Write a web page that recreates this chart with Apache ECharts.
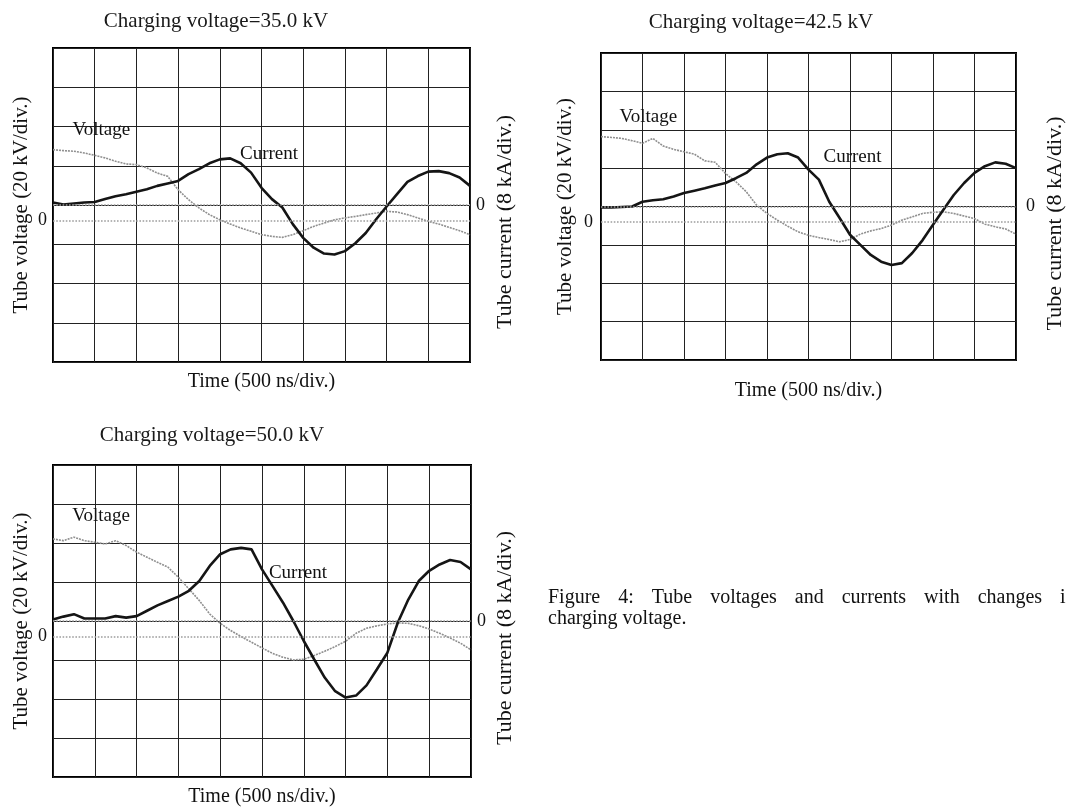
<!DOCTYPE html>
<html><head><meta charset="utf-8">
<script src="https://cdn.jsdelivr.net/npm/echarts@6/dist/echarts.min.js"></script>
<style>html,body{margin:0;padding:0;background:#fff}#c{width:1068px;height:810px}</style>
</head><body><div id="c"></div><script>
// ---- data (time in ns, voltage in kV, current in kA) ----
const timeNs = [0,125,250,375,500,625,750,875,1000,1125,1250,1375,1500,1625,1750,1875,2000,2125,2250,2375,2500,2625,2750,2875,3000,3125,3250,3375,3500,3625,3750,3875,4000,4125,4250,4375,4500,4625,4750,4875,5000];
const panelTitles = ['Charging voltage=35.0 kV','Charging voltage=42.5 kV','Charging voltage=50.0 kV'];
const voltage35 = [36.2,35.7,35.4,34.5,33.3,32.0,30.3,28.9,28.6,26.9,24.3,22.6,15.8,10.7,6.5,3.1,0.5,-1.7,-3.7,-5.4,-7.1,-8.0,-8.5,-7.1,-5.1,-2.9,-1.2,0.5,1.4,2.2,3.1,3.9,4.8,4.4,3.1,1.4,-0.3,-1.7,-3.4,-5.1,-7.1];
const current35 = [0.5,0.1,0.3,0.5,0.6,1.2,1.8,2.2,2.7,3.2,3.9,4.4,4.9,6.3,7.3,8.5,9.3,9.5,8.5,6.6,3.5,1.2,-0.5,-3.9,-6.7,-8.7,-9.9,-10.1,-9.4,-7.8,-5.7,-2.9,-0.3,2.2,4.7,5.9,6.8,6.9,6.5,5.6,3.9];
const voltage42 = [44.4,44.0,43.5,42.3,40.9,43.5,39.5,37.8,36.5,35.3,31.8,31.1,25.2,20.9,15.7,8.7,4.4,0.9,-2.3,-5.2,-7.0,-8.2,-9.2,-10.4,-9.2,-6.4,-4.7,-3.5,-1.7,0.9,2.6,4.4,5.0,5.2,4.4,3.0,1.7,-1.2,-2.6,-3.7,-6.4];
const current42 = [-0.2,-0.2,-0.1,0.0,1.0,1.3,1.5,2.1,2.8,3.3,3.8,4.4,4.9,5.9,7.0,8.8,10.2,10.9,11.1,10.2,7.7,5.6,1.0,-2.4,-5.9,-8.0,-10.1,-11.5,-12.2,-11.8,-9.7,-7.0,-3.8,-0.7,2.4,4.9,7.0,8.4,9.2,8.9,8.0];
const voltage50 = [50.1,49.2,51.0,49.2,48.4,47.5,49.2,46.7,43.3,40.7,38.1,35.6,30.4,24.5,18.5,11.6,6.8,3.1,0.0,-2.9,-5.8,-8.6,-10.6,-12.0,-11.6,-9.7,-7.5,-5.1,-2.4,1.7,4.3,5.5,6.5,7.0,6.8,5.6,3.9,1.7,-0.7,-3.4,-6.8];
const current50 = [0.3,0.9,1.4,0.5,0.5,0.5,1.0,0.7,1.0,2.1,3.2,4.1,5.0,6.2,8.2,11.3,13.7,14.7,15.0,14.7,10.6,7.2,3.8,0.0,-4.1,-7.9,-11.6,-14.4,-15.7,-15.3,-13.2,-9.9,-6.5,-0.3,4.4,8.2,10.3,11.6,12.5,12.1,10.6];
const voltageName = 'Tube voltage (20 kV/div.)';
const currentName = 'Tube current (8 kA/div.)';
const timeName = 'Time (500 ns/div.)';
const captionLine1 = ['Figure','4:','Tube','voltages','and','currents','with','changes','i'];
const captionLine2 = 'charging voltage.';

// ---- layout ----
const FONT = '"Liberation Serif","Times New Roman",serif';
const INK = '#111';
const panels = [
  {title:panelTitles[0], v:voltage35, c:current35, grid:{left:53,top:48,width:417,height:314}, tx:216, ty:11, xGap:10, lGap:21, rGap:24, lM:6, rM:6, vLab:[580,46.4], cLab:[2590,10.3]},
  {title:panelTitles[1], v:voltage42, c:current42, grid:{left:601,top:53,width:415,height:307}, tx:761, ty:12, xGap:21, lGap:25, rGap:28, lM:8, rM:10, vLab:[570,54.8], cLab:[3030,10.4]},
  {title:panelTitles[2], v:voltage50, c:current50, grid:{left:53,top:465,width:418,height:312}, tx:212, ty:425, xGap:10, lGap:21, rGap:23, lM:6, rM:6, vLab:[575,62], cLab:[2930,9.9]}
];

const grids=[], xAxes=[], yAxes=[], series=[], titles=[];
panels.forEach((p,i)=>{
  grids.push(Object.assign({show:true, borderColor:'#000', borderWidth:2, backgroundColor:'transparent', containLabel:false}, p.grid));
  titles.push({text:p.title, left:p.tx, top:p.ty, textAlign:'center', padding:0,
    textStyle:{fontSize:21, fontWeight:'normal', fontFamily:FONT, color:'#1a1a1a'}});
  xAxes.push({type:'value', gridIndex:i, min:0, max:5000, interval:500,
    axisLine:{show:false}, axisTick:{show:false}, axisLabel:{show:false},
    splitLine:{show:true, lineStyle:{color:'#222', width:1}},
    name:timeName, nameLocation:'middle', nameGap:p.xGap,
    nameTextStyle:{fontSize:20, fontFamily:FONT, color:INK}});
  yAxes.push({type:'value', gridIndex:i, position:'left', min:-72, max:88, interval:8,
    axisLine:{show:false}, axisTick:{show:false}, splitLine:{show:false},
    axisLabel:{formatter:v=>v===0?'0':'', fontSize:18, fontFamily:FONT, color:INK, margin:p.lM},
    name:voltageName, nameLocation:'middle', nameRotate:90, nameGap:p.lGap,
    nameTextStyle:{fontSize:21, fontFamily:FONT, color:INK}});
  yAxes.push({type:'value', gridIndex:i, position:'right', min:-32, max:32, interval:8,
    axisLine:{show:false}, axisTick:{show:false},
    splitLine:{show:true, lineStyle:{color:'#222', width:1}},
    axisLabel:{formatter:v=>v===0?'0':'', fontSize:18, fontFamily:FONT, color:INK, margin:p.rM},
    name:currentName, nameLocation:'middle', nameRotate:90, nameGap:p.rGap,
    nameTextStyle:{fontSize:22, fontFamily:FONT, color:INK, padding:[0,34,0,0]}});
  const base = {silent:true, symbol:'none', label:{show:false}, lineStyle:{color:'#9d9d9d', type:'dotted', width:1.6}, data:[{yAxis:0}]};
  series.push({type:'line', name:'Voltage', xAxisIndex:i, yAxisIndex:2*i, showSymbol:false, z:2,
    data:timeNs.map((t,k)=>[t,p.v[k]]),
    lineStyle:{color:'#8f8f8f', width:1.6, type:[2,1]},
    markLine:base,
    markPoint:{symbol:'rect', symbolSize:1, itemStyle:{color:'transparent'},
      label:{show:true, position:'inside', formatter:'Voltage', fontSize:19, fontFamily:FONT, color:INK},
      data:[{coord:p.vLab}]}});
  series.push({type:'line', name:'Current', xAxisIndex:i, yAxisIndex:2*i+1, showSymbol:false, z:3,
    data:timeNs.map((t,k)=>[t,p.c[k]]),
    lineStyle:{color:'#151515', width:2.6},
    markLine:base,
    markPoint:{symbol:'rect', symbolSize:1, itemStyle:{color:'transparent'},
      label:{show:true, position:'inside', formatter:'Current', fontSize:19, fontFamily:FONT, color:INK},
      data:[{coord:p.cLab}]}});
});

const chart = echarts.init(document.getElementById('c'), null, {renderer:'canvas'});
chart.setOption({
  backgroundColor:'#fff',
  animation:false,
  title:titles,
  grid:grids, xAxis:xAxes, yAxis:yAxes, series:series,
  graphic:[
    {type:'text', left:548, top:588, style:{text:captionLine1.join('{g| }'), rich:{g:{width:18}}, fontSize:20, fontFamily:FONT, fill:INK}},
    {type:'text', left:548, top:609, style:{text:captionLine2, fontSize:20, fontFamily:FONT, fill:INK}}
  ]
});
</script></body></html>
